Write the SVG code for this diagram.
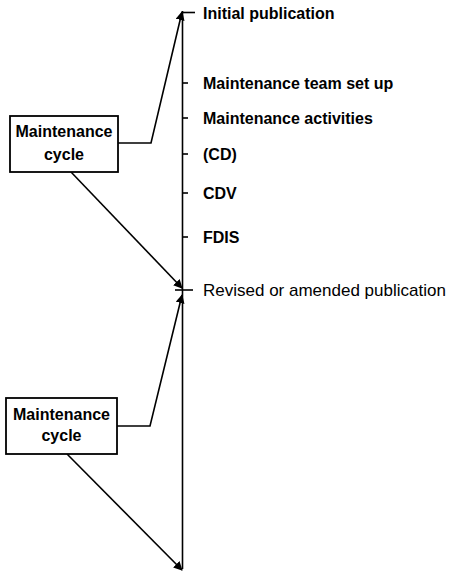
<svg xmlns="http://www.w3.org/2000/svg" width="450" height="578" viewBox="0 0 450 578">
<style>
.ln{stroke:#000;stroke-width:1.6;fill:none}
.box{stroke:#000;stroke-width:1.8;fill:#fff}
.t{font-family:"Liberation Sans",Arial,sans-serif;font-size:16px;font-weight:bold;fill:#000}
.r{font-family:"Liberation Sans",Arial,sans-serif;font-size:17px;fill:#000}
.c{text-anchor:middle}
</style>
<defs>
<marker id="ah" viewBox="0 0 10 10" refX="9" refY="5" markerWidth="9" markerHeight="9" markerUnits="userSpaceOnUse" orient="auto">
<path d="M0,0 L10,5 L0,10 z" fill="#000"/>
</marker>
</defs>
<rect width="450" height="578" fill="#fff"/>
<g id="connectors">
<line class="ln" x1="182.5" y1="11" x2="182.5" y2="569"/>
<polyline class="ln" points="118,143 151,143 182,12" marker-end="url(#ah)"/>
<line class="ln" x1="71" y1="172" x2="182" y2="288" marker-end="url(#ah)"/>
<polyline class="ln" points="117,426 150,426 182,295" marker-end="url(#ah)"/>
<line class="ln" x1="67" y1="454" x2="182" y2="570" marker-end="url(#ah)"/>
<line class="ln" x1="182" y1="12.5" x2="195" y2="12.5"/>
<line class="ln" x1="182" y1="83" x2="188" y2="83"/>
<line class="ln" x1="182" y1="118" x2="188" y2="118"/>
<line class="ln" x1="182" y1="154" x2="188" y2="154"/>
<line class="ln" x1="182" y1="193" x2="188" y2="193"/>
<line class="ln" x1="182" y1="237" x2="188" y2="237"/>
<line class="ln" x1="175" y1="290" x2="193" y2="290"/>
</g>
<g id="box1">
<rect class="box" x="10" y="116" width="108" height="56"/>
<text class="t c" x="64" y="137">Maintenance</text>
<text class="t c" x="64" y="160">cycle</text>
</g>
<g id="box2">
<rect class="box" x="6" y="398" width="111" height="56"/>
<text class="t c" x="61.5" y="420">Maintenance</text>
<text class="t c" x="61.5" y="441">cycle</text>
</g>
<g id="labels">
<text class="t" x="203" y="19">Initial publication</text>
<text class="t" x="203" y="89">Maintenance team set up</text>
<text class="t" x="203" y="124">Maintenance activities</text>
<text class="t" x="203" y="160">(CD)</text>
<text class="t" x="203" y="199">CDV</text>
<text class="t" x="203" y="243">FDIS</text>
<text class="r" x="203" y="296">Revised or amended publication</text>
</g>
</svg>
